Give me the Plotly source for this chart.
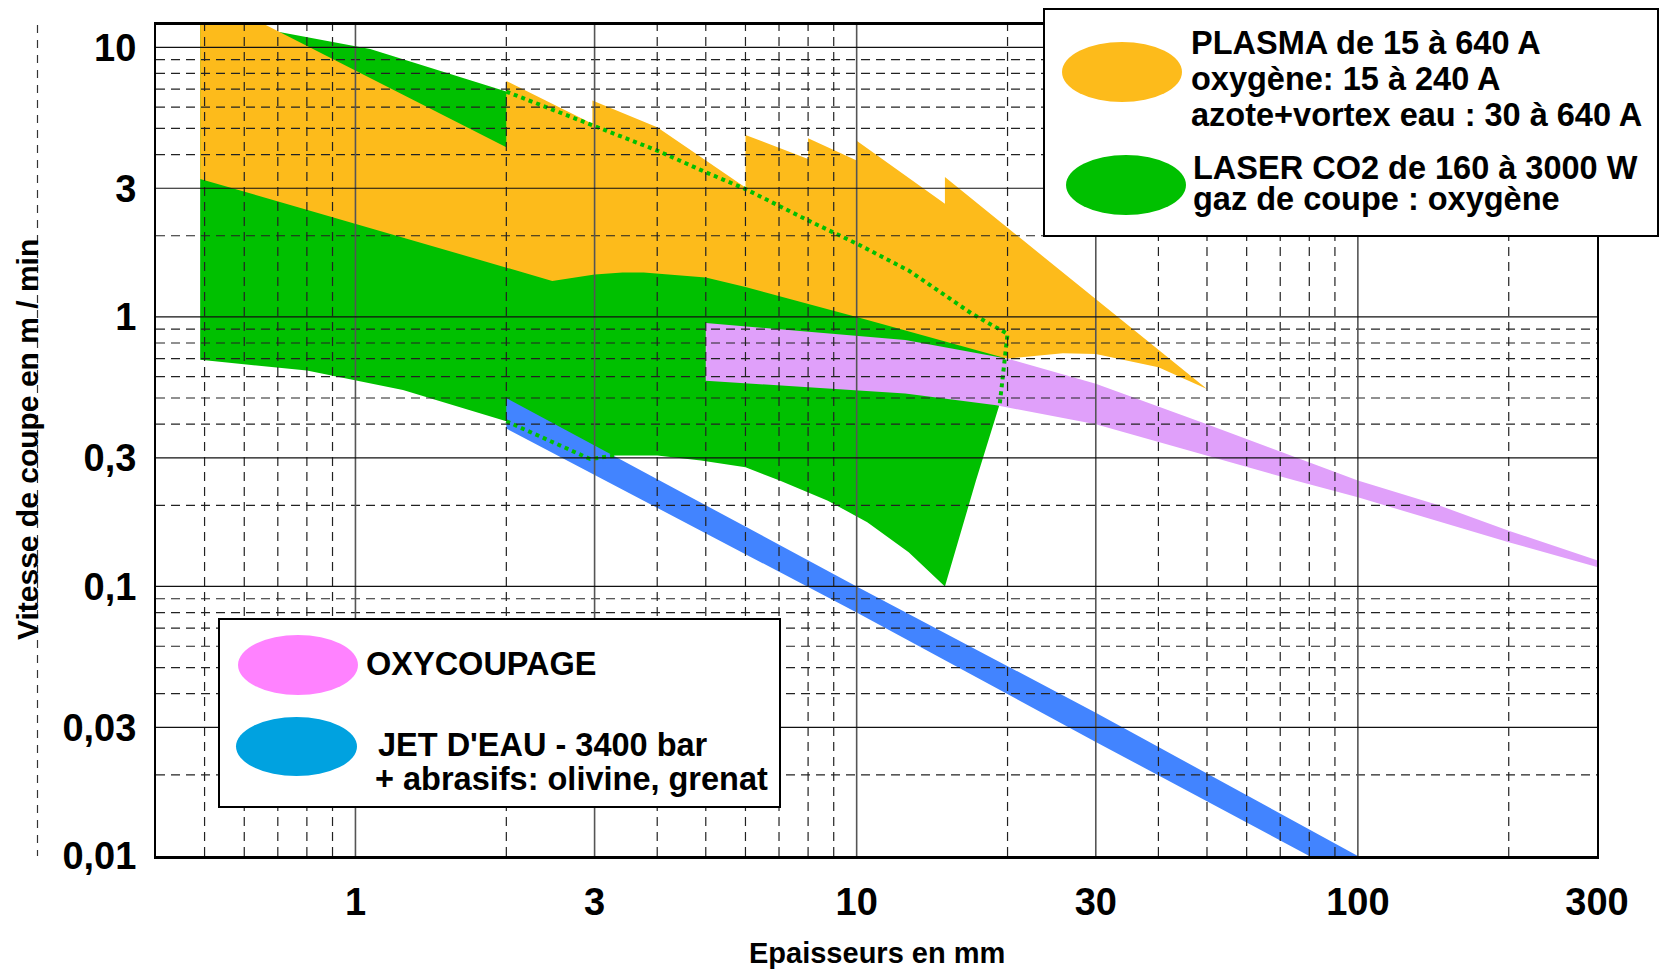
import plotly.graph_objects as go

# ---------------- data (thickness in mm, speed in m/min) ----------------
# PLASMA (orange) : upper and lower limits, left to right
plasma_up_x = [0.49, 0.64, 2, 2, 2.97, 2.97, 4, 6, 6, 8, 8, 10, 10, 15, 15, 50]
plasma_up_y = [12.5, 12.5, 4.26, 7.5, 5.2, 6.35, 5.05, 3.02, 4.73, 3.85, 4.6, 3.8, 4.5, 2.63, 3.3, 0.54]
plasma_lo_x = [0.49, 1, 2.47, 3, 3.41, 3.76, 5, 6, 10, 20, 25.8, 30, 40, 50]
plasma_lo_y = [3.25, 2.22, 1.36, 1.435, 1.46, 1.46, 1.40, 1.29, 1.0, 0.70, 0.733, 0.729, 0.65, 0.54]

# LASER CO2 (green) : upper and lower limits, left to right
laser_up_x = [0.49, 0.705, 1.07, 2, 2.97, 4, 5, 6, 8, 10, 12.7, 17, 20, 19.3, 17.3, 15]
laser_up_y = [12.5, 11.4, 9.86, 6.85, 5.12, 4.14, 3.44, 2.98, 2.28, 1.87, 1.485, 1.026, 0.865, 0.476, 0.247, 0.1]
laser_lo_x = [0.49, 0.8, 1, 1.244, 2, 2.94, 3.3, 4, 4.89, 6, 7.02, 8.76, 10.5, 12.7, 15]
laser_lo_y = [0.693, 0.632, 0.58, 0.536, 0.41, 0.297, 0.306, 0.306, 0.293, 0.277, 0.247, 0.208, 0.173, 0.134, 0.1]

# OXYCOUPAGE (violet band)
oxy_up_x = [5, 12.5, 20, 30, 50, 100, 145, 200, 300]
oxy_up_y = [0.95, 0.82, 0.70, 0.565, 0.40, 0.247, 0.2, 0.161, 0.125]
oxy_lo_x = [5, 12.5, 19, 30, 75, 100, 200, 300]
oxy_lo_y = [0.58, 0.52, 0.47, 0.40, 0.247, 0.214, 0.146, 0.118]

# JET D'EAU (blue band)
jet_up_x = [2, 10, 30, 100]
jet_up_y = [0.5, 0.1, 0.034, 0.01]
jet_lo_x = [2, 10, 30, 80]
jet_lo_y = [0.385, 0.08, 0.0265, 0.01]

# axes
x_min, x_max = 0.4, 300
y_min, y_max = 0.01, 12.1
x_ticks = [1, 3, 10, 30, 100, 300]
x_ticktext = ["1", "3", "10", "30", "100", "300"]
y_ticks = [0.01, 0.03, 0.1, 0.3, 1, 3, 10]
y_ticktext = ["0,01", "0,03", "0,1", "0,3", "1", "3", "10"]

x_grid_solid = [1, 3, 10, 30, 100]
x_grid_dash = [0.5, 0.6, 0.7, 0.8, 0.9, 2, 4, 5, 6, 7, 8, 9, 20, 40, 50, 60, 70, 80, 90, 200]
y_grid_solid = [0.03, 0.1, 0.3, 1, 3, 10]
y_grid_dash = [0.02, 0.04, 0.05, 0.06, 0.07, 0.08, 0.09, 0.2, 0.4, 0.5, 0.6, 0.7, 0.8, 0.9,
               2, 4, 5, 6, 7, 8, 9]

# ---------------- styling ----------------
ORANGE = "#FDBB1B"
GREEN = "#00C000"
VIOLET = "#E0A0FA"
BLUE = "#4284FF"
KEY_PINK = "#FF82FF"
KEY_BLUE = "#00A2E0"
FONT = "Liberation Sans"

FIG_W, FIG_H = 1660, 972
M_L, M_R, M_T, M_B = 156, 63, 25, 116
PLOT_W = FIG_W - M_L - M_R
PLOT_H = FIG_H - M_T - M_B


def pxx(xp):
    return (xp - M_L) / PLOT_W


def pxy(yp):
    return (FIG_H - M_B - yp) / PLOT_H


def band(up_x, up_y, lo_x, lo_y):
    return up_x + lo_x[::-1], up_y + lo_y[::-1]


fig = go.Figure()


def area(xs, ys, color):
    fig.add_trace(go.Scatter(x=xs, y=ys, mode="lines", fill="toself", fillcolor=color,
                             line=dict(width=0, color=color), hoverinfo="skip",
                             showlegend=False))


area(*band(laser_up_x, laser_up_y, laser_lo_x, laser_lo_y), GREEN)
area(*band(plasma_up_x, plasma_up_y, plasma_lo_x, plasma_lo_y), ORANGE)
area(*band(oxy_up_x, oxy_up_y, oxy_lo_x, oxy_lo_y), VIOLET)
area(*band(jet_up_x, jet_up_y, jet_lo_x, jet_lo_y), BLUE)

# hidden laser limits drawn dotted over the other areas
dot = dict(color=GREEN, width=4, dash="4px,4px")
fig.add_trace(go.Scatter(x=laser_up_x[3:14], y=laser_up_y[3:14], mode="lines", line=dot,
                         hoverinfo="skip", showlegend=False))
fig.add_trace(go.Scatter(x=laser_lo_x[4:7], y=laser_lo_y[4:7], mode="lines", line=dot,
                         hoverinfo="skip", showlegend=False))


def grid(values, vertical, line):
    xs, ys = [], []
    for v in values:
        if vertical:
            xs += [v, v, None]
            ys += [y_min, y_max, None]
        else:
            xs += [x_min, x_max, None]
            ys += [v, v, None]
    fig.add_trace(go.Scatter(x=xs, y=ys, mode="lines", line=line, hoverinfo="skip",
                             showlegend=False))


grid(x_grid_dash, True, dict(color="#222222", width=1.2, dash="9px,6px"))
grid(y_grid_dash, False, dict(color="#222222", width=1.2, dash="9px,6px"))
grid(x_grid_solid, True, dict(color="#555555", width=1.6))
grid(y_grid_solid, False, dict(color="#111111", width=1.2))

bold = dict(family=FONT, color="black", weight="bold")

fig.update_layout(
    width=FIG_W, height=FIG_H,
    margin=dict(l=M_L, r=M_R, t=M_T, b=M_B, pad=0),
    paper_bgcolor="white", plot_bgcolor="white",
    showlegend=False,
    xaxis=dict(type="log", range=[-0.39794, 2.47712], tickvals=x_ticks, ticktext=x_ticktext,
               showgrid=False, zeroline=False, ticks="", ticklabelstandoff=11,
               tickfont=dict(size=38, **bold), showline=True, linecolor="black",
               linewidth=2.5, mirror=True),
    yaxis=dict(type="log", range=[-2, 1.08279], tickvals=y_ticks, ticktext=y_ticktext,
               showgrid=False, zeroline=False, ticks="", ticklabelstandoff=10,
               tickfont=dict(size=38, **bold), showline=True, linecolor="black",
               linewidth=2, mirror=True),
)

shapes = []
# vertical dashed rule beside the y title
shapes.append(dict(type="line", xref="paper", yref="paper", x0=pxx(37.5), x1=pxx(37.5),
                   y0=pxy(25), y1=pxy(856), line=dict(color="#333333", width=1.2, dash="8px,7px")))
# key boxes
shapes.append(dict(type="rect", xref="paper", yref="paper", x0=pxx(1044), x1=pxx(1658),
                   y0=pxy(236), y1=pxy(9), fillcolor="white", line=dict(color="black", width=2),
                   layer="above"))
shapes.append(dict(type="rect", xref="paper", yref="paper", x0=pxx(219), x1=pxx(780),
                   y0=pxy(807), y1=pxy(619), fillcolor="white", line=dict(color="black", width=2),
                   layer="above"))


def ellipse(x0, x1, y0, y1, color):
    shapes.append(dict(type="circle", xref="paper", yref="paper", x0=pxx(x0), x1=pxx(x1),
                       y0=pxy(y1), y1=pxy(y0), fillcolor=color, line=dict(width=0),
                       layer="above"))


ellipse(1062, 1182, 42, 102, ORANGE)
ellipse(1066, 1186, 155, 215, GREEN)
ellipse(238, 358, 635, 695, KEY_PINK)
ellipse(236, 357, 717, 776, KEY_BLUE)
fig.update_layout(shapes=shapes)

KEY_SIZE = 32.5


def label(text, x, baseline, size=KEY_SIZE):
    fig.add_annotation(text=text, xref="paper", yref="paper", x=pxx(x),
                       y=pxy(baseline - 0.36 * size), xanchor="left", yanchor="middle",
                       showarrow=False, font=dict(size=size, **bold))


label("PLASMA de 15 à 640 A", 1189, 55)
label("oxygène: 15 à 240 A", 1189, 91)
label("azote+vortex eau : 30 à 640 A", 1189, 127)
label("LASER CO2 de 160 à 3000 W", 1191, 180)
label("gaz de coupe : oxygène", 1191, 211)
label("OXYCOUPAGE", 364, 676)
label("JET D'EAU - 3400 bar", 376, 757)
label("+ abrasifs: olivine, grenat", 373, 791)

fig.add_annotation(text="Epaisseurs en mm", xref="paper", yref="paper", x=0.5, y=pxy(953),
                   xanchor="center", yanchor="middle", showarrow=False,
                   font=dict(size=29, **bold))
fig.add_annotation(text="Vitesse de coupe en m / min", xref="paper", yref="paper",
                   x=pxx(28), y=pxy(440), xanchor="center", yanchor="middle",
                   textangle=-90, showarrow=False, font=dict(size=30, **bold))

fig.write_html("out.html")
